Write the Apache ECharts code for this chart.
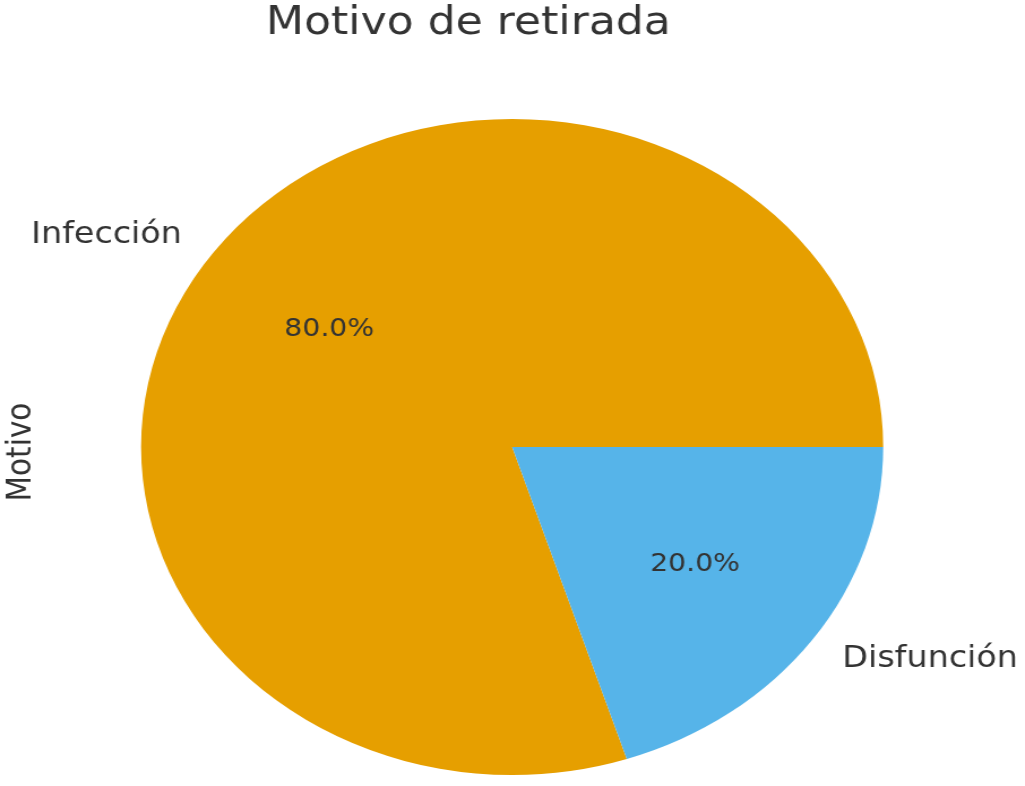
<!DOCTYPE html>
<html>
<head>
<meta charset="utf-8">
<script src="https://cdn.jsdelivr.net/npm/echarts@6/dist/echarts.min.js"></script>
<style>
  html, body { margin: 0; padding: 0; background: #fff; overflow: hidden; }
  /* la figura original aparece estirada en horizontal */
  #main { width: 906px; height: 786px; transform: scaleX(1.1313); transform-origin: 0 0; }
</style>
</head>
<body>
<div id="main"></div>
<script>
// datos
var categories = ['Infección', 'Disfunción'];
var values = [80, 20];
var colors = ['#E69F00', '#56B4E9'];

var chart = echarts.init(document.getElementById('main'), null, { renderer: 'canvas' });

var cx = 452.7, cy = 447, R = 328;
var font = 'DejaVu Sans';

var pieData = categories.map(function (name, i) {
  return { name: name, value: values[i], itemStyle: { color: colors[i] } };
});

var option = {
  backgroundColor: '#ffffff',
  animation: false,
  graphic: [
    {
      type: 'text', x: 414, y: 24,
      style: { text: 'Motivo de retirada', font: '39px "DejaVu Sans"', fill: '#333',
        textAlign: 'center', textVerticalAlign: 'middle' }
    },
    {
      type: 'text', x: 19.5, y: 452, rotation: Math.PI / 2,
      style: { text: 'Motivo', font: '29.5px "DejaVu Sans"', fill: '#333',
        textAlign: 'center', textVerticalAlign: 'middle' }
    }
  ],
  series: [
    {
      // sectores + nombres a 1.1R
      type: 'pie',
      center: [cx, cy],
      radius: [0, R],
      startAngle: 0,
      clockwise: false,
      avoidLabelOverlap: false,
      silent: true,
      itemStyle: { borderWidth: 0 },
      label: {
        show: true, position: 'outside', formatter: '{b}',
        color: '#333', fontFamily: font, fontSize: 29.5,
        distanceToLabelLine: 0
      },
      labelLine: { show: false, length: 0.1 * R, length2: 0 },
      data: pieData
    },
    {
      // porcentajes a 0.6R (serie transparente de radio 1.2R)
      type: 'pie',
      center: [cx, cy],
      radius: [0, 1.2 * R],
      startAngle: 0,
      clockwise: false,
      silent: true,
      itemStyle: { color: 'rgba(0,0,0,0)', borderWidth: 0 },
      label: {
        show: true, position: 'inside',
        formatter: function (p) { return p.percent.toFixed(1) + '%'; },
        color: '#333', fontFamily: font, fontSize: 25
      },
      labelLine: { show: false },
      data: categories.map(function (name, i) { return { name: name, value: values[i] }; })
    }
  ]
};

chart.setOption(option);
</script>
</body>
</html>
